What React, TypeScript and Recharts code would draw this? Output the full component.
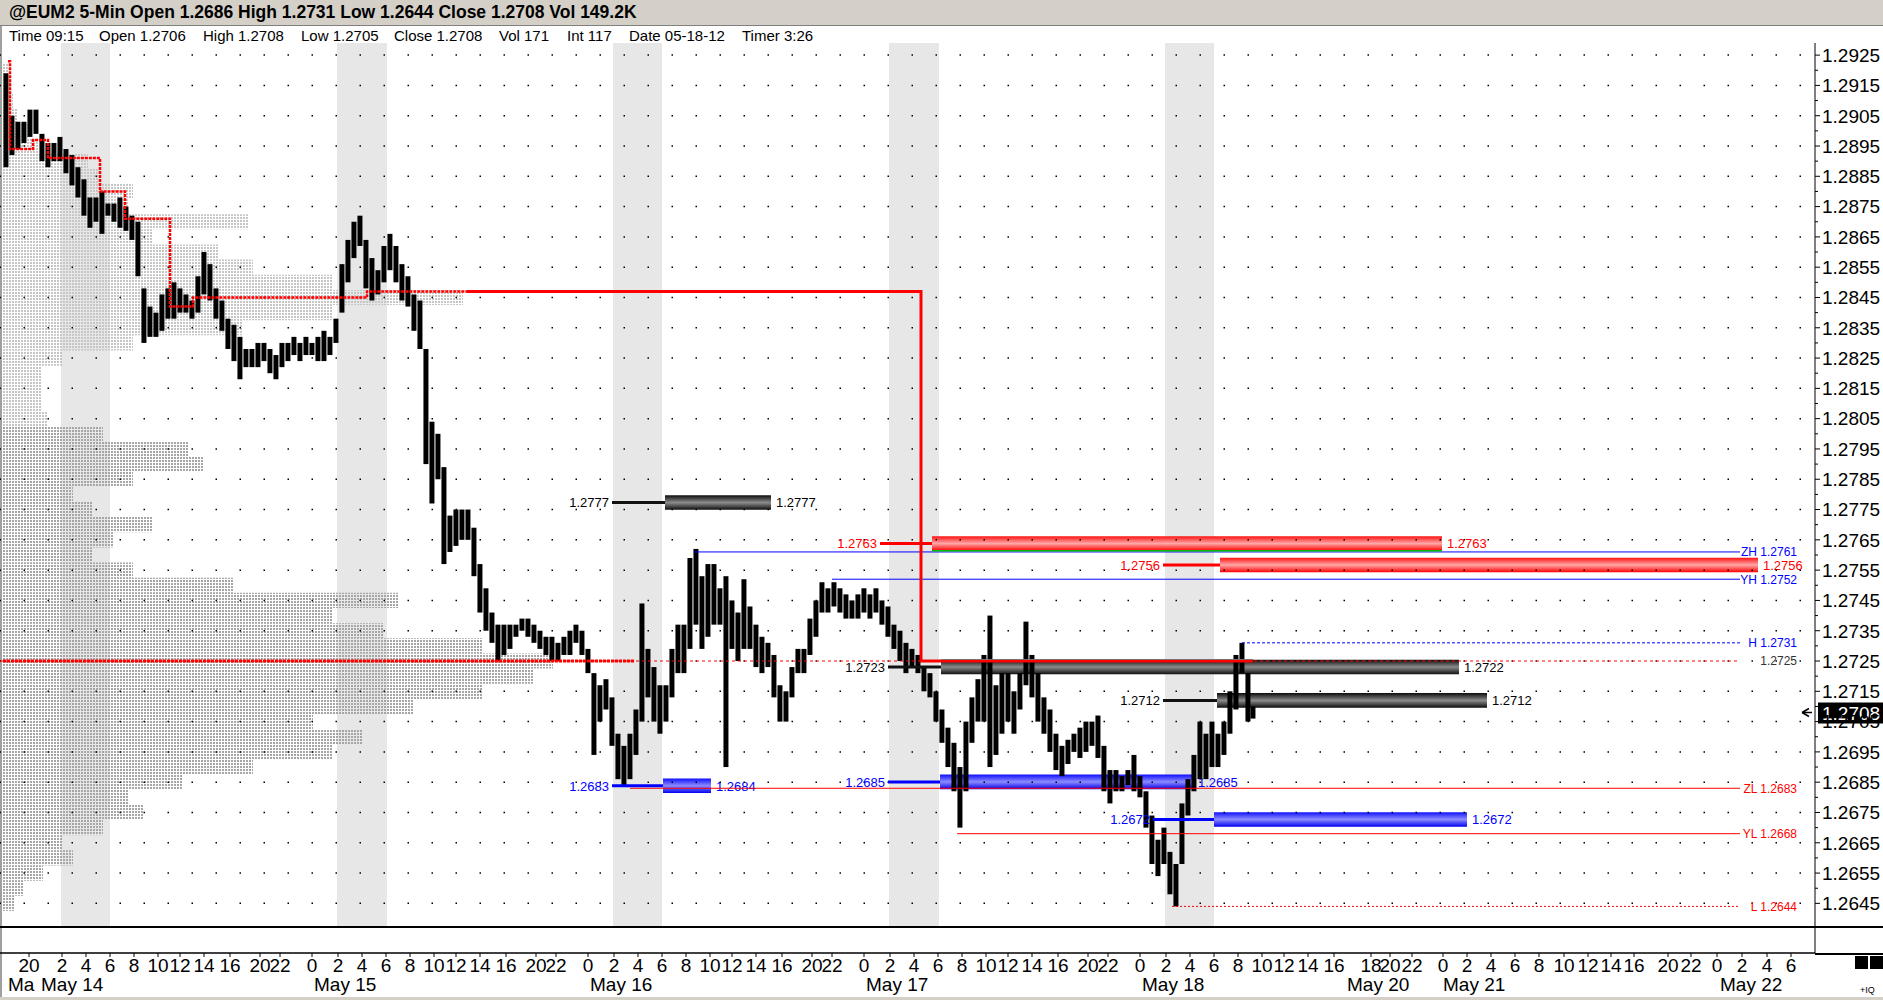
import React from "react";
import {
  Bar,
  ComposedChart,
  Label,
  Line,
  ReferenceArea,
  ReferenceLine,
  XAxis,
  YAxis,
} from "recharts";

const FONT = '"Liberation Sans", Arial, Helvetica, sans-serif';
const W = 1883;
const PLOT_RIGHT = 1815; // x axis runs in 5-min bar slots, one slot per pixel
const Y_MIN = 1.26372;
const Y_MAX = 1.2929;

// header texts
const titleText = "@EUM2 5-Min Open 1.2686 High 1.2731 Low 1.2644 Close 1.2708 Vol 149.2K";
const infoText = ["Time 09:15", "Open 1.2706", "High 1.2708", "Low 1.2705", "Close 1.2708", "Vol 171", "Int 117", "Date 05-18-12", "Timer 3:26"];
const infoLeft = [9, 99, 203, 301, 394, 499, 567, 629, 742];

// price scale
const priceTicks = [
  1.2925, 1.2915, 1.2905, 1.2895, 1.2885, 1.2875, 1.2865, 1.2855, 1.2845, 1.2835,
  1.2825, 1.2815, 1.2805, 1.2795, 1.2785, 1.2775, 1.2765, 1.2755, 1.2745, 1.2735,
  1.2725, 1.2715, 1.2705, 1.2695, 1.2685, 1.2675, 1.2665, 1.2655, 1.2645,
];
const priceMinorTicks = [
  1.292, 1.291, 1.29, 1.289, 1.288, 1.287, 1.286, 1.285, 1.284, 1.283,
  1.282, 1.281, 1.28, 1.279, 1.278, 1.277, 1.276, 1.275, 1.274, 1.273,
  1.272, 1.271, 1.27, 1.269, 1.268, 1.267, 1.266, 1.265,
];
const lastPrice = 1.2708;

// 5-min bars, sampled every 6 bars: slot, high, low
const barSlot = [
  6, 12, 18, 24, 30, 36, 42, 48, 54, 60, 66, 72, 78, 84, 90, 96, 102, 108, 114, 120,
  126, 132, 138, 144, 150, 156, 162, 168, 174, 180, 186, 192, 198, 204, 210, 216, 222, 228, 234, 240,
  246, 252, 258, 264, 270, 276, 282, 288, 294, 300, 306, 312, 318, 324, 330, 336, 342, 348, 354, 360,
  366, 372, 378, 384, 390, 396, 402, 408, 414, 420, 426, 432, 438, 444, 450, 456, 462, 468, 474, 480,
  486, 492, 498, 504, 510, 516, 522, 528, 534, 540, 546, 552, 558, 564, 570, 576, 582, 588, 594, 600,
  606, 612, 618, 624, 630, 636, 642, 648, 654, 660, 666, 672, 678, 684, 690, 696, 702, 708, 714, 720,
  726, 732, 738, 744, 750, 756, 762, 768, 774, 780, 786, 792, 798, 804, 810, 816, 822, 828, 834, 840,
  846, 852, 858, 864, 870, 876, 882, 888, 894, 900, 906, 912, 918, 924, 930, 936, 942, 948, 954, 960,
  966, 972, 978, 984, 990, 996, 1002, 1008, 1014, 1020, 1026, 1032, 1038, 1044, 1050, 1056, 1062, 1068, 1074, 1080,
  1086, 1092, 1098, 1104, 1110, 1116, 1122, 1128, 1134, 1140, 1146, 1152, 1158, 1164, 1170, 1176, 1182, 1188, 1194, 1200,
  1206, 1212, 1218, 1224, 1230, 1236, 1242, 1248, 1253,
];
const barHigh = [
  1.2919, 1.2905, 1.2903, 1.2903, 1.2907, 1.2907, 1.2899, 1.2896, 1.2896, 1.2898, 1.2894, 1.2892, 1.2888, 1.2884, 1.2878, 1.2878, 1.288, 1.2876, 1.2876, 1.2878,
  1.2875, 1.2872, 1.287, 1.2848, 1.2842, 1.284, 1.2846, 1.2848, 1.285, 1.2848, 1.2846, 1.2844, 1.2852, 1.286, 1.2856, 1.2848, 1.2844, 1.2838, 1.2836, 1.2832,
  1.2828, 1.2828, 1.283, 1.283, 1.2828, 1.2826, 1.283, 1.283, 1.2832, 1.283, 1.2832, 1.283, 1.2832, 1.2834, 1.2832, 1.2838, 1.2856, 1.2864, 1.287, 1.2872,
  1.2864, 1.2858, 1.2854, 1.2862, 1.2866, 1.2862, 1.2856, 1.2852, 1.2846, 1.2844, 1.2828, 1.2804, 1.28, 1.2789, 1.2773, 1.2775, 1.2775, 1.2775, 1.2769, 1.2757,
  1.2749, 1.2741, 1.2737, 1.2737, 1.2737, 1.2737, 1.2739, 1.2739, 1.2737, 1.2735, 1.2733, 1.2733, 1.2731, 1.2733, 1.2735, 1.2737, 1.2735, 1.2729, 1.2721, 1.2717,
  1.2719, 1.2713, 1.2701, 1.2697, 1.2701, 1.2709, 1.2744, 1.2729, 1.2723, 1.2717, 1.2717, 1.2729, 1.2737, 1.2737, 1.2759, 1.2762, 1.2753, 1.2757, 1.2757, 1.2749,
  1.2753, 1.2745, 1.2741, 1.2752, 1.2743, 1.2737, 1.2733, 1.2731, 1.2727, 1.2717, 1.2715, 1.2723, 1.2729, 1.2729, 1.2739, 1.2745, 1.2751, 1.2749, 1.2751, 1.2749,
  1.2747, 1.2745, 1.2747, 1.2749, 1.2747, 1.2749, 1.2745, 1.2743, 1.2737, 1.2735, 1.2731, 1.2729, 1.2727, 1.2723, 1.2721, 1.2715, 1.2709, 1.2703, 1.2698, 1.269,
  1.2705, 1.2713, 1.2719, 1.2727, 1.274, 1.2717, 1.2721, 1.2721, 1.2715, 1.2721, 1.2738, 1.2727, 1.2721, 1.2713, 1.2709, 1.2701, 1.2697, 1.2699, 1.2701, 1.2703,
  1.2705, 1.2705, 1.2707, 1.2697, 1.2689, 1.2689, 1.2687, 1.2689, 1.2694, 1.2687, 1.2682, 1.2674, 1.2666, 1.267, 1.2662, 1.2658, 1.2678, 1.2686, 1.2694, 1.2705,
  1.2701, 1.2705, 1.2701, 1.2705, 1.2715, 1.2727, 1.2731, 1.2721, 1.271,
];
const barLow = [
  1.2888, 1.2892, 1.2894, 1.2896, 1.2898, 1.2899, 1.289, 1.2888, 1.289, 1.289, 1.2886, 1.2882, 1.2878, 1.2872, 1.2868, 1.287, 1.2866, 1.2872, 1.287, 1.2868,
  1.2867, 1.2864, 1.2852, 1.283, 1.2832, 1.2832, 1.2834, 1.2838, 1.2838, 1.284, 1.284, 1.2838, 1.284, 1.2846, 1.2844, 1.2838, 1.2834, 1.2828, 1.2824, 1.2818,
  1.2822, 1.2822, 1.2822, 1.2824, 1.282, 1.2818, 1.2822, 1.2824, 1.2826, 1.2824, 1.2826, 1.2826, 1.2824, 1.2824, 1.2826, 1.283, 1.284, 1.285, 1.2858, 1.2862,
  1.2848, 1.2844, 1.2846, 1.285, 1.2854, 1.285, 1.2844, 1.2842, 1.2834, 1.2828, 1.279, 1.2777, 1.2785, 1.2757, 1.2761, 1.2763, 1.2765, 1.2765, 1.2753, 1.2741,
  1.2735, 1.2731, 1.2725, 1.2727, 1.2729, 1.2733, 1.2735, 1.2733, 1.2731, 1.2729, 1.2727, 1.2725, 1.2725, 1.2727, 1.2727, 1.2731, 1.2727, 1.2721, 1.2694, 1.2705,
  1.2709, 1.2697, 1.2686, 1.2684, 1.2686, 1.2694, 1.2705, 1.2713, 1.2705, 1.2701, 1.2705, 1.2713, 1.2721, 1.2721, 1.2729, 1.2737, 1.2729, 1.2733, 1.2737, 1.2737,
  1.269, 1.2729, 1.2725, 1.2729, 1.2729, 1.2723, 1.2721, 1.2723, 1.2713, 1.2705, 1.2705, 1.2713, 1.2721, 1.2721, 1.2727, 1.2733, 1.2741, 1.2741, 1.2743, 1.2741,
  1.2739, 1.2739, 1.2739, 1.2741, 1.2739, 1.2741, 1.2737, 1.2733, 1.2729, 1.2725, 1.2721, 1.2723, 1.2721, 1.2715, 1.2713, 1.2705, 1.2698, 1.269, 1.2682, 1.267,
  1.2682, 1.2698, 1.2705, 1.2705, 1.269, 1.2694, 1.2701, 1.2705, 1.2701, 1.2709, 1.2717, 1.2713, 1.2705, 1.2701, 1.2695, 1.2689, 1.2687, 1.2691, 1.2695, 1.2693,
  1.2695, 1.2697, 1.2693, 1.2682, 1.2678, 1.2682, 1.2682, 1.2684, 1.2682, 1.268, 1.267, 1.2658, 1.2654, 1.2658, 1.2648, 1.2644, 1.2658, 1.2674, 1.2682, 1.2686,
  1.2686, 1.269, 1.269, 1.2694, 1.2701, 1.2709, 1.2721, 1.2705, 1.2706,
];

// volume-at-price profile (left edge), level and size in slots
const vpLevel = [
  1.292, 1.2915, 1.291, 1.2905, 1.29, 1.2895, 1.289, 1.2885, 1.288, 1.2875,
  1.287, 1.2865, 1.286, 1.2855, 1.285, 1.2845, 1.284, 1.2835, 1.283, 1.2825,
  1.282, 1.2815, 1.281, 1.2805, 1.28, 1.2795, 1.279, 1.2785, 1.278, 1.2775,
  1.277, 1.2765, 1.276, 1.2755, 1.275, 1.2745, 1.274, 1.2735, 1.273, 1.2725,
  1.272, 1.2715, 1.271, 1.2705, 1.27, 1.2695, 1.269, 1.2685, 1.268, 1.2675,
  1.267, 1.2665, 1.266, 1.2655, 1.265, 1.2645,
];
const vpSize = [
  6, 8, 10, 14, 25, 35, 85, 95, 130, 125,
  245, 150, 215, 250, 330, 460, 330, 240, 130, 60,
  38, 38, 38, 45, 100, 185, 200, 130, 70, 90,
  150, 110, 90, 130, 230, 395, 330, 380, 480, 550,
  530, 480, 410, 310, 360, 330, 250, 180, 125, 140,
  100, 60, 70, 40, 20, 12,
];

// night sessions shaded
const bandFrom = [61, 337, 613, 889, 1165];
const bandTo = [110, 387, 662, 939, 1214];

// developing point of control
const pocX = [8, 10, 33, 48, 100, 125, 170, 193, 367, 467];
const pocP = [1.2923, 1.2894, 1.2897, 1.2891, 1.288, 1.2871, 1.2842, 1.2845, 1.2847, 1.2847];
const pocLateX = [467, 921, 1253];
const pocLateP = [1.2847, 1.2725, 1.2725];

// level boxes
const boxPrice = [1.27773, 1.27638, 1.27567, 1.2723, 1.2712, 1.26838, 1.26851, 1.26727];
const boxLineFrom = [612, 880, 1163, 888, 1163, 612, 888, 1153];
const boxFrom = [665, 932, 1220, 941, 1217, 663, 940, 1214];
const boxTo = [771, 1442, 1758, 1459, 1487, 711, 1193, 1467];
const boxLeftText = ["1.2777", "1.2763", "1.2756", "1.2723", "1.2712", "1.2683", "1.2685", "1.2672"];
const boxRightText = ["1.2777", "1.2763", "1.2756", "1.2722", "1.2712", "1.2684", "1.2685", "1.2672"];
const boxKind = ["black", "red", "red", "black", "black", "blue", "blue", "blue"];
const BOX_HALF = 0.00024;

// reference lines
const lvlPrice = [1.2761, 1.2752, 1.2731, 1.2725, 1.2683, 1.2668, 1.2644];
const lvlFrom = [694, 832, 1242, 0, 630, 957, 1172];
const lvlText = ["ZH 1.2761", "YH 1.2752", "H 1.2731", "1.2725", "ZL 1.2683", "YL 1.2668", "L 1.2644"];
const lvlColor = ["#0000ff", "#0000ff", "#0000ff", "#ff0000", "#ff0000", "#ff0000", "#ff0000"];
const lvlTextColor = ["#0000ff", "#0000ff", "#0000ff", "#333333", "#ff0000", "#ff0000", "#ff0000"];
const lvlDash = ["", "", "3 2", "3 3", "", "", "2 2"];
const LVL_END = 1740;

// time axis
const dayBase = [62, 338, 614, 890, 1166];
const sessionOffset = [0, 24, 48, 72, 96, 118, 142, 168, 198, 218, 250];
const sessionLabel = ["2", "4", "6", "8", "10", "12", "14", "16", "20", "22", "0"];
const futureTickX = [1371, 1390, 1412, 1443, 1467, 1491, 1515, 1539, 1564, 1588, 1611, 1634, 1668, 1691, 1717, 1742, 1767, 1791];
const futureTickLabel = ["18", "20", "22", "0", "2", "4", "6", "8", "10", "12", "14", "16", "20", "22", "0", "2", "4", "6"];
const dateTickX = [8, 41, 314, 590, 866, 1142, 1347, 1443, 1720];
const dateTickLabel = ["Ma", "May 14", "May 15", "May 16", "May 17", "May 18", "May 20", "May 21", "May 22"];

const hourTicks: { x: number; label: string }[] = [{ x: 29, label: "20" }];
dayBase.forEach((b, d) => {
  const n = d === dayBase.length - 1 ? 8 : sessionOffset.length;
  for (let i = 0; i < n; i++) hourTicks.push({ x: b + sessionOffset[i], label: sessionLabel[i] });
});
futureTickX.forEach((x, i) => hourTicks.push({ x, label: futureTickLabel[i] }));
const hourLabelOf = new Map(hourTicks.map((t) => [t.x, t.label]));
const dateLabelOf = new Map(dateTickX.map((x, i) => [x, dateTickLabel[i]]));

const priceData = barSlot.map((x, i) => ({ x, hl: [barLow[i], barHigh[i]] }));
const pocData = pocX.map((x, i) => ({ x, p: pocP[i] }));
const pocLateData = pocLateX.map((x, i) => ({ x, p: pocLateP[i] }));

const MAJOR = new Set(priceTicks);
const kindFill: Record<string, string> = { black: "url(#gBlack)", red: "url(#gRed)", blue: "url(#gBlue)" };
const kindLine: Record<string, string> = { black: "#111111", red: "#ff0000", blue: "#0000ff" };
const kindText: Record<string, string> = { black: "#000000", red: "#ff0000", blue: "#0000ff" };

function PriceTick(props: any) {
  const { x, y, payload } = props;
  const major = MAJOR.has(payload.value);
  return (
    <g>
      <line x1={x} x2={x + (major ? 5 : 3)} y1={y} y2={y} stroke="#000" />
      {major && (
        <text x={x + 7} y={y} dy="0.36em" fontSize={19} fontFamily={FONT} fill="#000">
          {payload.value.toFixed(4)}
        </text>
      )}
    </g>
  );
}

function HourTick(props: any) {
  const { x, y, payload } = props;
  return (
    <text x={x} y={y + 15} textAnchor="middle" fontSize={19} fontFamily={FONT} fill="#000">
      {hourLabelOf.get(payload.value)}
    </text>
  );
}

function DateTick(props: any) {
  const { x, y, payload } = props;
  return (
    <text x={x} y={y + 17} textAnchor="start" fontSize={19} fontFamily={FONT} fill="#000">
      {dateLabelOf.get(payload.value)}
    </text>
  );
}

// one sampled range, drawn as a narrow block
function RangeBar(props: any) {
  const { x, y, width, height } = props;
  if (x == null || y == null) return null;
  const top = Math.min(y, y + height);
  const h = Math.max(Math.abs(height), 1.5);
  return <rect x={x + (width || 0) / 2 - 2.5} y={top} width={5} height={h} fill="#000" />;
}

export default function App() {
  return (
    <div style={{ position: "absolute", left: 0, top: 0, width: W, height: 1000, background: "#fff", overflow: "hidden", fontFamily: FONT }}>
      <div style={{ position: "absolute", left: 0, top: 0, width: W, height: 25, background: "#d4d0c8", borderBottom: "1px solid #808080" }}>
        <span style={{ position: "absolute", left: 9, top: 2, fontSize: 17.5, fontWeight: "bold", color: "#000", whiteSpace: "nowrap" }}>{titleText}</span>
      </div>
      {infoText.map((t, i) => (
        <span key={t} style={{ position: "absolute", left: infoLeft[i], top: 27, fontSize: 15, color: "#000", whiteSpace: "nowrap" }}>{t}</span>
      ))}
      <div style={{ position: "absolute", left: 0, top: 26, width: 2, height: 974, background: "#a0a0a0" }} />

      <div style={{ position: "absolute", left: 0, top: 43 }}>
        <ComposedChart width={W} height={884} data={priceData} margin={{ top: 0, right: 0, bottom: 0, left: 0 }}>
          <defs>
            <linearGradient id="gBlack" x1="0" y1="0" x2="0" y2="1">
              <stop offset="0%" stopColor="#0d0d0d" />
              <stop offset="50%" stopColor="#8c8c8c" />
              <stop offset="100%" stopColor="#0d0d0d" />
            </linearGradient>
            <linearGradient id="gRed" x1="0" y1="0" x2="0" y2="1">
              <stop offset="0%" stopColor="#ff1010" />
              <stop offset="50%" stopColor="#ffa8a8" />
              <stop offset="100%" stopColor="#ff0000" />
            </linearGradient>
            <linearGradient id="gBlue" x1="0" y1="0" x2="0" y2="1">
              <stop offset="0%" stopColor="#1010ff" />
              <stop offset="50%" stopColor="#8c8cff" />
              <stop offset="100%" stopColor="#0000f0" />
            </linearGradient>
            <pattern id="vpLight" width="3" height="3" patternUnits="userSpaceOnUse">
              <rect width="2" height="2" fill="#c6c6c6" />
            </pattern>
            <pattern id="vpDark" width="3" height="3" patternUnits="userSpaceOnUse">
              <rect width="2" height="2" fill="#a6a6a6" />
            </pattern>
          </defs>
          <XAxis type="number" dataKey="x" domain={[0, PLOT_RIGHT]} hide allowDataOverflow />
          <YAxis
            orientation="right"
            type="number"
            domain={[Y_MIN, Y_MAX]}
            width={68}
            ticks={[...priceTicks, ...priceMinorTicks]}
            interval={0}
            tick={(p: any) => <PriceTick {...p} />}
            tickLine={false}
            tickSize={0}
            tickMargin={0}
            axisLine={{ stroke: "#000" }}
            allowDataOverflow
          />

          {bandFrom.map((b, i) => (
            <ReferenceArea key={"band" + i} x1={b} x2={bandTo[i]} fill="#000" fillOpacity={0.095} stroke="none" />
          ))}

          {vpLevel.map((lv, i) => (
            <ReferenceArea
              key={"vp" + i}
              x1={3}
              x2={3 + vpSize[i]}
              y1={lv - 0.00025}
              y2={lv + 0.00025}
              fill={lv >= 1.2805 ? "url(#vpLight)" : "url(#vpDark)"}
              fillOpacity={1}
              stroke="none"
            />
          ))}

          {priceTicks.map((p) => (
            <ReferenceLine key={"dot" + p} y={p} stroke="#000" strokeWidth={1.5} strokeDasharray="0 14 1.5 8.5" />
          ))}

          {lvlPrice.map((p, i) => (
            <ReferenceLine
              key={"lvl" + i}
              segment={[{ x: lvlFrom[i], y: p }, { x: LVL_END, y: p }]}
              stroke={lvlColor[i]}
              strokeWidth={1}
              strokeDasharray={lvlDash[i] || undefined}
            >
              <Label
                content={(lp: any) => {
                  const vb = lp.viewBox;
                  return (
                    <text x={vb.x + vb.width + 57} y={vb.y} dy="0.36em" textAnchor="end" fontSize={12} fontFamily={FONT} fill={lvlTextColor[i]}>
                      {lvlText[i]}
                    </text>
                  );
                }}
              />
            </ReferenceLine>
          ))}

          <ReferenceLine
            segment={[{ x: 3, y: 1.2725 }, { x: 634, y: 1.2725 }]}
            stroke="#ff0000"
            strokeWidth={3}
            strokeDasharray="3 1"
          />

          {boxPrice.map((p, i) => (
            <ReferenceLine
              key={"bl" + i}
              segment={[{ x: boxLineFrom[i], y: p }, { x: boxFrom[i], y: p }]}
              stroke={kindLine[boxKind[i]]}
              strokeWidth={3}
            >
              <Label
                content={(lp: any) => {
                  const vb = lp.viewBox;
                  return (
                    <text x={vb.x - 3} y={vb.y} dy="0.36em" textAnchor="end" fontSize={13} fontFamily={FONT} fill={kindText[boxKind[i]]}>
                      {boxLeftText[i]}
                    </text>
                  );
                }}
              />
            </ReferenceLine>
          ))}
          {boxPrice.map((p, i) => (
            <ReferenceArea
              key={"box" + i}
              x1={boxFrom[i]}
              x2={boxTo[i]}
              y1={p - BOX_HALF}
              y2={p + BOX_HALF}
              fill={kindFill[boxKind[i]]}
              fillOpacity={1}
              stroke="none"
            >
              <Label
                content={(lp: any) => {
                  const vb = lp.viewBox;
                  return (
                    <text x={vb.x + vb.width + 5} y={vb.y + vb.height / 2} dy="0.36em" fontSize={13} fontFamily={FONT} fill={kindText[boxKind[i]]}>
                      {boxRightText[i]}
                    </text>
                  );
                }}
              />
            </ReferenceArea>
          ))}
          <ReferenceLine
            segment={[{ x: boxFrom[1], y: boxPrice[1] - BOX_HALF }, { x: boxTo[1], y: boxPrice[1] - BOX_HALF }]}
            stroke="#00c000"
            strokeWidth={1.5}
          />
          <ReferenceLine
            segment={[{ x: boxFrom[3], y: boxPrice[3] + BOX_HALF }, { x: 1253, y: boxPrice[3] + BOX_HALF }]}
            stroke="#00dddd"
            strokeWidth={1.5}
          />

          <Bar dataKey="hl" fill="#000" barSize={5} shape={(p: any) => <RangeBar {...p} />} isAnimationActive={false} />
          <Line data={pocData} dataKey="p" type="stepAfter" stroke="#ff0000" strokeWidth={2.5} strokeDasharray="3 1" dot={false} isAnimationActive={false} />
          <Line data={pocLateData} dataKey="p" type="stepAfter" stroke="#ff0000" strokeWidth={3} dot={false} isAnimationActive={false} />

          <ReferenceLine y={lastPrice} stroke="none" ifOverflow="visible">
            <Label
              content={(lp: any) => {
                const vb = lp.viewBox;
                const ax = vb.x + vb.width;
                const y = vb.y;
                return (
                  <g>
                    <path d={`M${ax - 13},${y} l7,-4 M${ax - 13},${y} l7,4 M${ax - 13},${y} h10`} stroke="#000" strokeWidth={1.5} fill="none" />
                    <rect x={ax + 3} y={y - 10} width={68} height={21} fill="#000" />
                    <text x={ax + 7} y={y} dy="0.38em" fontSize={19} fontFamily={FONT} fill="#fff">
                      {lastPrice.toFixed(4)}
                    </text>
                  </g>
                );
              }}
            />
          </ReferenceLine>
        </ComposedChart>
      </div>

      <div style={{ position: "absolute", left: 0, top: 926, width: W, height: 2, background: "#000" }} />
      <div style={{ position: "absolute", left: 0, top: 927 }}>
        <ComposedChart width={W} height={73} data={hourTicks} margin={{ top: 0, right: 0, bottom: 5, left: 0 }}>
          <XAxis
            xAxisId="a"
            type="number"
            dataKey="x"
            domain={[0, PLOT_RIGHT]}
            ticks={hourTicks.map((t) => t.x)}
            interval={0}
            height={21}
            tick={(p: any) => <HourTick {...p} />}
            tickSize={4}
            tickMargin={0}
            tickLine={{ stroke: "#000" }}
            axisLine={{ stroke: "#000", strokeWidth: 1.5 }}
            allowDataOverflow
          />
          <XAxis
            xAxisId="b"
            type="number"
            dataKey="x"
            domain={[0, PLOT_RIGHT]}
            ticks={dateTickX}
            interval={0}
            height={21}
            tick={(p: any) => <DateTick {...p} />}
            tickSize={0}
            tickMargin={0}
            tickLine={false}
            axisLine={false}
            allowDataOverflow
          />
          <YAxis
            orientation="right"
            type="number"
            domain={[0, 32000]}
            ticks={[14000]}
            width={68}
            tickLine={false}
            tickSize={0}
            tickMargin={0}
            axisLine={{ stroke: "#000" }}
            tick={(p: any) => (
              <g>
                <line x1={p.x} x2={p.x + 5} y1={p.y} y2={p.y} stroke="#000" />
                <text x={p.x + 7} y={p.y} dy="0.36em" fontSize={19} fontFamily={FONT} fill="#000">14K</text>
              </g>
            )}
          />
        </ComposedChart>
      </div>
      <div style={{ position: "absolute", left: PLOT_RIGHT, top: 953, width: W - PLOT_RIGHT, height: 1.5, background: "#000" }} />
      <div style={{ position: "absolute", left: 1855, top: 956, width: 13, height: 13, background: "#000" }} />
      <div style={{ position: "absolute", left: 1870, top: 956, width: 13, height: 13, background: "#000" }} />
      <span style={{ position: "absolute", left: 1860, top: 985, fontSize: 9, color: "#000" }}>+IQ</span>
      <div style={{ position: "absolute", left: 0, top: 997, width: W, height: 3, background: "#d4d0c8" }} />
    </div>
  );
}
